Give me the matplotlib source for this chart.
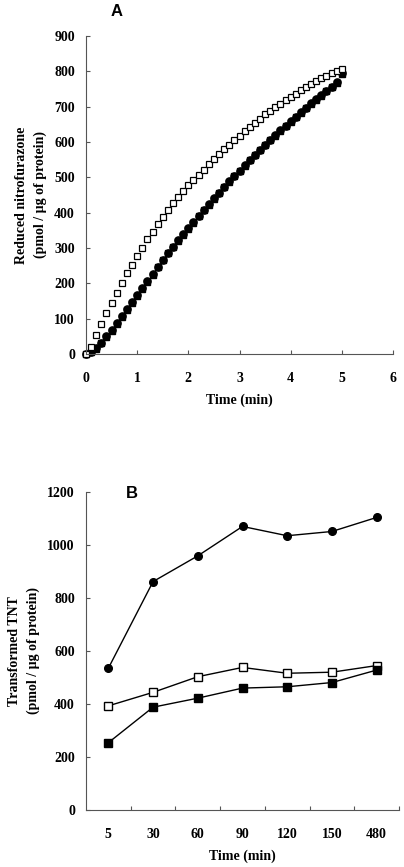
import matplotlib
matplotlib.use("Agg")
import matplotlib.pyplot as plt
import numpy as np

# Panel A data
time_a = [round(0.1 * i, 1) for i in range(51)]
open_sq_a = [0, 20, 55, 85, 115, 145, 172, 200, 228, 252, 278, 300, 325, 345, 368, 388,
             408, 428, 445, 462, 478, 493, 508, 522, 538, 552, 566, 580, 592, 605, 618,
             630, 642, 655, 666, 678, 688, 698, 708, 718, 728, 737, 746, 755, 764, 772,
             780, 788, 795, 802, 808]
filled_a = [0, 5, 15, 30, 48, 65, 85, 105, 125, 145, 165, 185, 205, 225, 245, 265,
            285, 302, 320, 338, 355, 372, 390, 407, 423, 440, 456, 472, 488, 503, 518,
            533, 548, 563, 577, 591, 605, 618, 632, 645, 658, 670, 683, 695, 707, 719,
            731, 743, 755, 767, 792]
filled_a2 = [0, 6, 17, 32, 50, 67, 87, 107, 127, 147, 167, 187, 207, 227, 247, 266,
             286, 304, 322, 340, 357, 374, 391, 408, 425, 441, 457, 473, 489, 504, 519,
             534, 549, 564, 578, 592, 606, 620, 633, 646, 659, 672, 685, 697, 709, 721,
             733, 745, 757, 769, 795]

# Panel B data
time_b_labels = ["5", "30", "60", "90", "120", "150", "480"]
circles_b = [535, 862, 959, 1070, 1035, 1051, 1104]
open_sq_b = [393, 444, 503, 538, 516, 520, 545]
filled_sq_b = [254, 388, 422, 460, 465, 481, 528]

serif = ["Liberation Serif", "DejaVu Serif"]
sans = ["Liberation Sans", "DejaVu Sans"]

fig = plt.figure(figsize=(4.04, 8.67), dpi=100)
W, H = 404, 867

def ax_rect(l, r, t, b):
    return [l / W, 1 - b / H, (r - l) / W, (b - t) / H]

axis_color = "#555555"

def style(ax):
    for s in ["top", "right"]:
        ax.spines[s].set_visible(False)
    for s in ["left", "bottom"]:
        ax.spines[s].set_color(axis_color)
        ax.spines[s].set_linewidth(0.8)
    ax.tick_params(direction="in", length=3, width=0.8, color=axis_color,
                   labelsize=10)
    ax.tick_params(axis="y", pad=8)
    ax.tick_params(axis="x", pad=13)
    for lab in ax.get_xticklabels() + ax.get_yticklabels():
        lab.set_fontfamily(serif)
        lab.set_fontweight("bold")

# Panel A
axA = fig.add_axes(ax_rect(86, 393, 36, 354))
axA.plot(time_a, filled_a2, linestyle="none", marker="o", markersize=5.2,
         color="black", clip_on=False)
axA.plot(time_a, filled_a, linestyle="none", marker="s", markersize=4.8,
         color="black", clip_on=False)
axA.plot(time_a, open_sq_a, linestyle="none", marker="s", markersize=4.5,
         markerfacecolor="white", markeredgecolor="black", markeredgewidth=0.9,
         clip_on=False)
axA.set_xlim(0, 6)
axA.set_ylim(0, 900)
axA.set_xticks(range(0, 7))
axA.set_yticks(range(0, 901, 100))
style(axA)
axA.set_xlabel("Time (min)", fontfamily=serif, fontweight="bold", fontsize=10, labelpad=6)
axA.set_ylabel("Reduced nitrofurazone\n(pmol / µg of protein)", fontfamily=serif,
               fontweight="bold", fontsize=10, labelpad=5, linespacing=1.6)
fig.text(117 / W, 1 - 12 / H, "A", fontfamily=sans, fontweight="bold", fontsize=12,
         ha="center", va="center")

# Panel B
axB = fig.add_axes(ax_rect(86, 399, 492, 810))
xb = np.arange(len(time_b_labels))
axB.plot(xb, circles_b, color="black", linewidth=1.0, marker="o", markersize=5.5,
         clip_on=False)
axB.plot(xb, open_sq_b, color="black", linewidth=1.0, marker="s", markersize=5.5,
         markerfacecolor="white", markeredgecolor="black", markeredgewidth=1.0,
         clip_on=False)
axB.plot(xb, filled_sq_b, color="black", linewidth=1.0, marker="s", markersize=5.5,
         clip_on=False)
axB.set_xlim(-0.5, len(time_b_labels) - 0.5)
axB.set_ylim(0, 1200)
axB.set_yticks(range(0, 1201, 200))
axB.set_xticks(xb)
axB.set_xticklabels(time_b_labels)
axB.set_xticks(np.arange(0.5, len(time_b_labels), 1), minor=True)
style(axB)
axB.tick_params(axis="x", which="major", length=0, pad=13)
axB.tick_params(axis="x", which="minor", direction="in", length=3, width=0.8,
                color=axis_color)
axB.set_xlabel("Time (min)", fontfamily=serif, fontweight="bold", fontsize=10, labelpad=6)
axB.set_ylabel("Transformed TNT\n(pmol / µg of protein)", fontfamily=serif,
               fontweight="bold", fontsize=10, labelpad=5, linespacing=1.6)
fig.text(132 / W, 1 - 493 / H, "B", fontfamily=sans, fontweight="bold", fontsize=12,
         ha="center", va="center")

fig.savefig("out.png", dpi=100)
